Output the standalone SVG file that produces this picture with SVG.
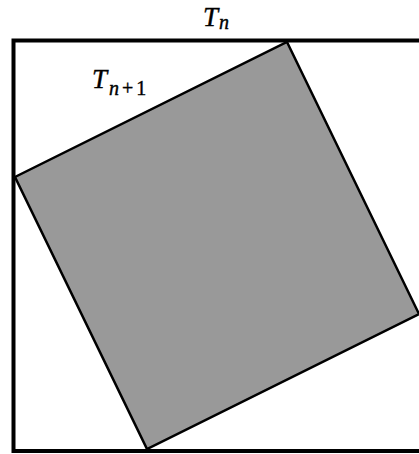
<svg xmlns="http://www.w3.org/2000/svg" width="419" height="454" viewBox="0 0 419 454">
<style>
.lbl{font-family:"Liberation Serif","Times New Roman",serif;font-style:italic;font-size:27px;fill:#000;stroke:#000;stroke-width:0.4}
.sub{font-size:20px}
.up{font-style:normal}
</style>
<rect width="419" height="454" fill="#fff"/>
<g id="Tn">
<rect x="13.5" y="40.5" width="412" height="410.5" fill="none" stroke="#000" stroke-width="4"/>
<text class="lbl" x="203" y="26">T<tspan class="sub" dx="1" dy="3">n</tspan></text>
</g>
<g id="Tn1">
<polygon points="287,42 419,314 147,449 15,177" fill="#999" stroke="#000" stroke-width="2.5" stroke-linejoin="miter"/>
<text class="lbl" x="92" y="88">T<tspan class="sub" dx="2" dy="7">n</tspan><tspan class="sub up" dx="3">+</tspan><tspan class="sub up" dx="3">1</tspan></text>
</g>
<g id="connectors"/>
</svg>
